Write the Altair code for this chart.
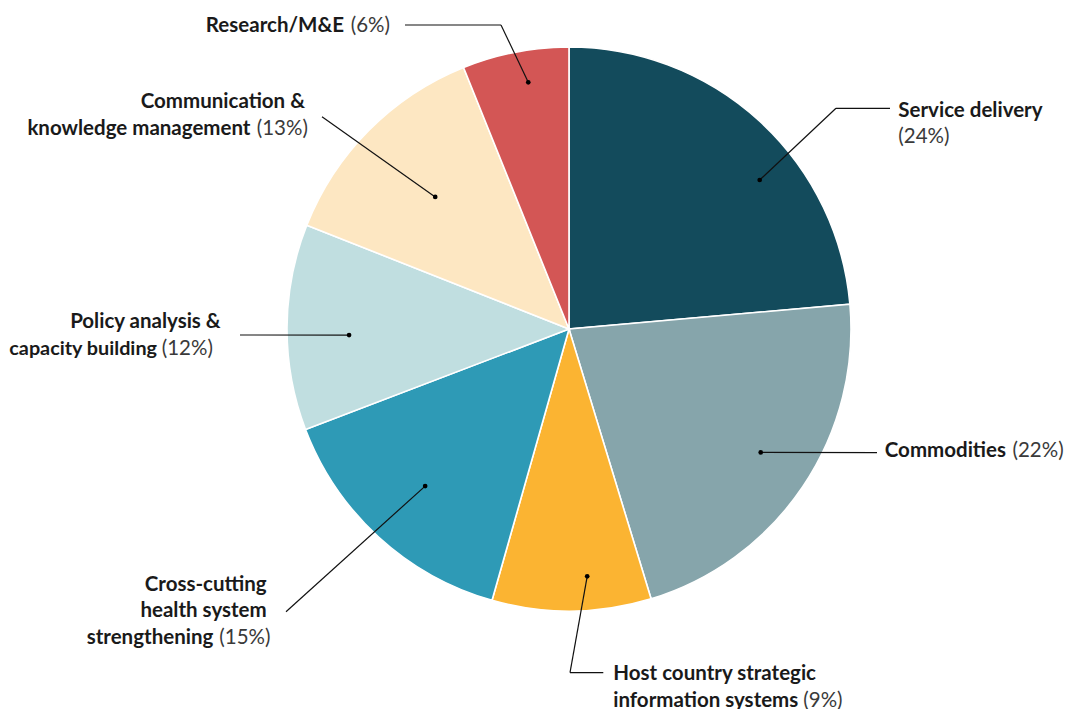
import altair as alt
import pandas as pd

# ---------------- data ----------------
categories = [
    "Service delivery",
    "Commodities",
    "Host country strategic information systems",
    "Cross-cutting health system strengthening",
    "Policy analysis & capacity building",
    "Communication & knowledge management",
    "Research/M&E",
]
shares = [23.6, 21.7, 9.1, 14.8, 11.8, 12.9, 6.1]
pct_labels = [24, 22, 9, 15, 12, 13, 6]               # printed percentages
colors = ["#134b5c", "#86a5ab", "#fbb432", "#2e9ab6", "#c0dee0", "#fde7c2", "#d35655"]

# ---------------- layout (page pixel coordinates) ----------------
W, H = 1056, 701
OFF = 8
CX, CY, R = 569, 329, 282
dot_frac = [0.612, 0.484, 0.388, 0.50, 0.454, 0.496, 0.573]
dot_r = [242, 228, 248, 213, 220, 188, 250]
elbow_x = [836, 877, 570, 286, 240, 322, 501]
elbow_y = [108.3, 452.7, 672.7, 611.7, 335, 116.7, 25]
end_x = [890, 877, 603.3, 286, 240, 322, 405]
end_y = [108.3, 452.7, 672.7, 611.7, 335, 116.7, 25]

name_lines = [
    ["Service delivery"],
    ["Commodities"],
    ["Host country strategic", "information systems"],
    ["Cross-cutting", "health system", "strengthening"],
    ["Policy analysis &", "capacity building"],
    ["Communication &", "knowledge management"],
    ["Research/M&E"],
]
FONT = "Lato"
FS = 20.5
# per line: (x, baseline, align, font size)
name_pos = [
    [(898.3, 116.7, "left", FS)],
    [(1006.0, 457.3, "right", FS)],
    [(613.3, 680.0, "left", FS), (798.3, 706.7, "right", FS)],
    [(266.7, 590.7, "right", FS), (266.7, 617.3, "right", FS), (213.3, 644.0, "right", FS)],
    [(220.7, 328.3, "right", FS), (157.0, 355.0, "right", 19.8)],
    [(305.0, 108.3, "right", FS), (250.5, 135.0, "right", FS)],
    [(344.0, 31.7, "right", FS)],
]
pct_pos = [(898.3, 143.3), (1012.5, 457.3), (803.3, 706.7), (219.3, 644.0),
           (161.7, 355.0), (256.7, 135.0), (350.7, 31.7)]

# ---------------- tables ----------------
df = pd.DataFrame({
    "category": categories,
    "value": shares,
    "idx": list(range(len(categories))),
    "dot_frac": dot_frac,
    "dot_r": dot_r,
    "ex": elbow_x,
    "ey": elbow_y,
    "tx": end_x,
    "ty": end_y,
})

rows = []
for i, lines in enumerate(name_lines):
    for line, (x, y, al, fs) in zip(lines, name_pos[i]):
        rows.append({"text": line, "x": x, "y": y, "kind": "bold-" + al, "fs": fs})
    rows.append({"text": f"({pct_labels[i]}%)", "x": pct_pos[i][0], "y": pct_pos[i][1],
                 "kind": "reg-left", "fs": FS})
tdf = pd.DataFrame(rows)

xs = alt.Scale(domain=[OFF, OFF + W], range=[0, W])
ys = alt.Scale(domain=[OFF, OFF + H], range=[0, H])

pie = alt.Chart(df).mark_arc(outerRadius=R, stroke="white", strokeWidth=1.6).encode(
    theta=alt.Theta("value:Q", stack=True),
    color=alt.Color("category:N", scale=alt.Scale(domain=categories, range=colors), legend=None),
    order=alt.Order("idx:Q", sort="ascending"),
    x=alt.value(CX - OFF),
    y=alt.value(CY - OFF),
)

base = alt.Chart(df).transform_joinaggregate(
    total="sum(value)"
).transform_window(
    cum="sum(value)", sort=[alt.SortField("idx")], frame=[None, 0]
).transform_calculate(
    a1="2*PI*datum.cum/datum.total",
).transform_calculate(
    a0="2*PI*(datum.cum-datum.value)/datum.total",
).transform_calculate(
    am="datum.a0 + datum.dot_frac*(datum.a1-datum.a0)",
).transform_calculate(
    dx=f"{CX} + datum.dot_r*sin(datum.am)",
).transform_calculate(
    dy=f"{CY} - datum.dot_r*cos(datum.am)",
)

leader1 = base.mark_rule(color="#111111", strokeWidth=1.2).encode(
    x=alt.X("dx:Q", scale=xs, axis=None),
    y=alt.Y("dy:Q", scale=ys, axis=None),
    x2="ex:Q",
    y2="ey:Q",
)
leader2 = alt.Chart(df).mark_rule(color="#111111", strokeWidth=1.2).encode(
    x=alt.X("ex:Q", scale=xs, axis=None),
    y=alt.Y("ey:Q", scale=ys, axis=None),
    x2="tx:Q",
    y2="ty:Q",
)
dots = base.mark_circle(color="#000000", opacity=1, size=22).encode(
    x=alt.X("dx:Q", scale=xs, axis=None),
    y=alt.Y("dy:Q", scale=ys, axis=None),
)


def text_layer(kind, align, weight, color):
    return alt.Chart(tdf).transform_filter(alt.datum.kind == kind).mark_text(
        align=align, baseline="alphabetic", font=FONT,
        fontWeight=weight, color=color,
    ).encode(
        x=alt.X("x:Q", scale=xs, axis=None),
        y=alt.Y("y:Q", scale=ys, axis=None),
        size=alt.Size("fs:Q", scale=None, legend=None),
        text="text:N",
    )


t1 = text_layer("bold-left", "left", "bold", "#1a1a1a")
t2 = text_layer("bold-right", "right", "bold", "#1a1a1a")
t3 = text_layer("reg-left", "left", "normal", "#3a3a3a")

chart = alt.layer(pie, leader1, leader2, dots, t1, t2, t3).properties(
    width=W, height=H, padding=0, autosize="none", background="white"
).configure_view(stroke=None)

chart.save("out.html", embed_options={"renderer": "svg", "actions": False})
